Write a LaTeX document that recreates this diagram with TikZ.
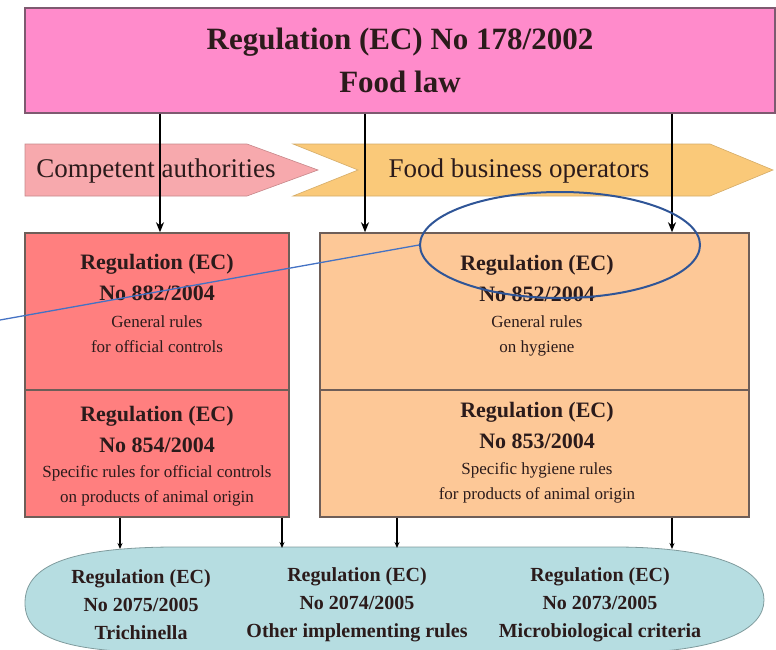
\documentclass[tikz,border=0pt]{standalone}
\usepackage{fontspec}
\setmainfont{Liberation Serif}
\usetikzlibrary{arrows.meta,positioning,shapes.geometric}

\definecolor{rosa}{HTML}{FF8BCB}
\definecolor{rosaBorde}{HTML}{7E5A70}
\definecolor{rosaClaro}{HTML}{F7A9AD}
\definecolor{naranjaClaro}{HTML}{FAC979}
\definecolor{rojo}{HTML}{FF7F7F}
\definecolor{naranja}{HTML}{FDC897}
\definecolor{celeste}{HTML}{B6DDE1}
\definecolor{borde}{HTML}{6E5E58}
\definecolor{tinta}{HTML}{2B1B1B}
\definecolor{azulOsc}{HTML}{2F5597}
\definecolor{azulClaro}{HTML}{4472C4}

\begin{document}
\begin{tikzpicture}[x=1pt, y=-1pt, >={Stealth[length=10pt,width=8pt]},
  caja/.style={draw=borde, line width=1.5pt, inner sep=0pt, minimum width=264pt},
  titulo/.style={font=\bfseries\fontsize{22}{31}\selectfont, align=center, text=tinta},
  detalle/.style={font=\fontsize{17}{25}\selectfont, align=center, text=tinta},
  pie/.style={font=\bfseries\fontsize{20}{28}\selectfont, align=center, text=tinta},
  banda/.style={font=\fontsize{27}{30}\selectfont, text=tinta},
  flecha/.style={->, line width=2.2pt},
  flechita/.style={-{Stealth[length=6pt,width=5pt]}, line width=1.4pt}]
\useasboundingbox (0,0) rectangle (776,650);
% Nodos
\node [fill=rosa, draw=rosaBorde, line width=1.5pt, minimum width=750pt, minimum height=105pt, text=tinta, align=center, font=\bfseries\fontsize{31}{43}\selectfont] (ley) at (400,60.5) {Regulation (EC) No 178/2002\\Food law};

% Bandas
\fill [rosaClaro, draw=rosaClaro!80!black, line width=0.6pt] (25,144) -- (247,144) -- (318,170) -- (247,196) -- (25,196) -- cycle;
\fill [naranjaClaro, draw=naranjaClaro!85!black, line width=0.6pt] (293,144) -- (710,144) -- (773,170) -- (710,196) -- (293,196) -- (358,170) -- cycle;
\node [banda] (autoridades) at (156,171) {Competent authorities};
\node [banda] (operadores) at (519,171) {Food business operators};

% Cajas
\node [caja, fill=rojo, minimum height=157pt] (r882) at (157,311.5) {};
\node [caja, fill=rojo, minimum height=127pt] (r854) at (157,453.5) {};
\node [caja, fill=naranja, minimum width=429pt, minimum height=157pt] (r852) at (534.5,311.5) {};
\node [caja, fill=naranja, minimum width=429pt, minimum height=127pt] (r853) at (534.5,453.5) {};

\node [titulo] (t882) at (157,277.5) {Regulation (EC)\\No 882/2004};
\node [detalle] (d882) at (157,334) {General rules\\for official controls};
\node [titulo] (t854) at (157,429) {Regulation (EC)\\No 854/2004};
\node [detalle] (d854) at (157,485.5) {Specific rules for official controls\\on products of animal origin};
\node [titulo] (t852) at (537,278) {Regulation (EC)\\No 852/2004};
\node [detalle] (d852) at (537,336) {General rules\\on hygiene};
\node [titulo] (t853) at (537,425) {Regulation (EC)\\No 853/2004};
\node [detalle] (d853) at (537,482.5) {Specific hygiene rules\\for products of animal origin};

% Reglamentos de aplicacion
\draw [fill=celeste, draw=celeste!70!black, line width=0.8pt] (25,603) .. controls (25,565) and (70,548) .. (170,547) -- (620,547) .. controls (720,548) and (764,570) .. (764,600) .. controls (764,630) and (720,652) .. (620,653) -- (170,653) .. controls (70,652) and (25,640) .. (25,603);
\coordinate (e1) at (120,549);
\coordinate (e2) at (282,548);
\coordinate (e3) at (397,548);
\coordinate (e4) at (672,549);
\node [pie] (p2075) at (141,605) {Regulation (EC)\\No 2075/2005\\Trichinella};
\node [pie] (p2074) at (357,605) {Regulation (EC)\\No 2074/2005\\Other implementing rules};
\node [pie] (p2073) at (600,605) {Regulation (EC)\\No 2073/2005\\Microbiological criteria};

% Flechas
\coordinate (c1) at (160,0);
\coordinate (c2) at (365,0);
\coordinate (c3) at (672,0);
\draw [flecha] (ley.south -| c1) -- (r882.north -| c1);
\draw [flecha] (ley.south -| c2) -- (r852.north -| c2);
\draw [flecha] (ley.south -| c3) -- (r852.north -| c3);

\draw [flechita] (r854.south -| e1) -- (e1);
\draw [flechita] (r854.south -| e2) -- (e2);
\draw [flechita] (r853.south -| e3) -- (e3);
\draw [flechita] (r853.south -| e4) -- (e4);

% Marca
\coordinate (nota) at (0,320);
\node [ellipse, draw=azulOsc, line width=2pt, minimum width=280pt, minimum height=106pt, inner sep=0pt] (marca) at (560,245) {};
\draw [azulClaro, line width=1.3pt] (nota) -- (marca.west);
\end{tikzpicture}
\end{document}
